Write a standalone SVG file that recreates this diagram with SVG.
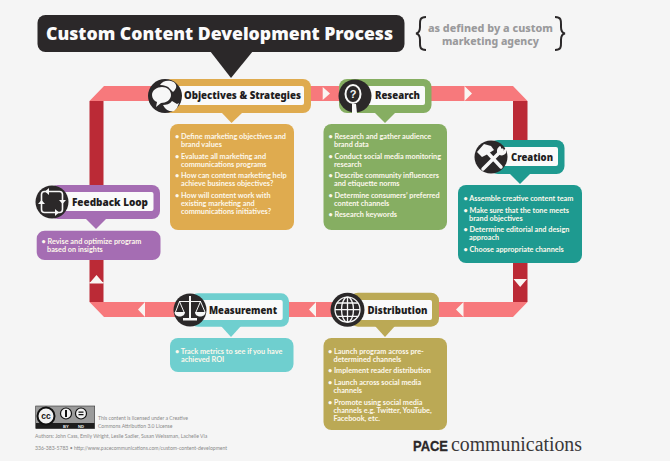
<svg xmlns="http://www.w3.org/2000/svg" width="670" height="461" viewBox="0 0 670 461">
<style>
.b{font-family:"Lato","Liberation Sans",sans-serif;font-size:7.3px;font-weight:700;fill:#fdf8ec}
.h{font-family:"Noto Sans","Liberation Sans",sans-serif;font-size:10.4px;font-weight:900;fill:#1f1d1e}
.w{fill:#fafafa}
.k{fill:#2b2829}
.s{fill:none;stroke:#f7f7f7;stroke-width:1.6;stroke-linecap:round;stroke-linejoin:round}
.p{fill:#f7797c}.d{fill:#bb2a36}.a{fill:#f9f5f2}
.f{font-family:"Lato","Liberation Sans",sans-serif;font-size:5.1px;fill:#8a8a8a}
.t{font-family:"Noto Sans","Liberation Sans",sans-serif;font-size:10px;font-weight:800;fill:#9a9a9c}
</style>
<rect width="670" height="461" fill="#f5f5f5"/>
<g id="connectors">
<path class="d" d="M89.500 101h14v84h-14zM89.500 260h14v42h-14zM513 101h14.500v39H513zM513 263h14.500v39H513z"/>
<path class="p" d="M89.500 101L104 86H513L527.500 101H513ZM89.500 302H527.500L513 317H104Z"/>
<path class="a" d="M322.700 87L330 93.500L322.700 100ZM464.500 86L472 93.500L464.500 101ZM145 302L138 309.500L145 317ZM316 302L309 309.500L316 317ZM463.500 302L456 309.500L463.500 317ZM90.500 282L96.500 275L102.500 282ZM513.500 279H527L520.200 287Z"/>
<path d="M89.500 282h14v1.500h-14z" class="a"/>
</g>
<g id="title">
<rect x="37.500" y="15" width="367" height="37" rx="8" class="k"/>
<path class="k" d="M210 51H253L231 78Z"/>
<text x="46" y="40" font-family="Noto Sans,Liberation Sans,sans-serif" font-size="18" font-weight="900" fill="#fbfbfb" textLength="347" lengthAdjust="spacingAndGlyphs">Custom Content Development Process</text>
</g>
<g id="subtitle">
<path d="M426 17C419 17 420 21 420 27C420 31 419 33 416 33.500C419 34 420 36 420 40C420 46 419 50 426 50" fill="none" stroke="#2b2829" stroke-width="2"/>
<path d="M555 17C562 17 561 21 561 27C561 31 562 33 565 33.500C562 34 561 36 561 40C561 46 562 50 555 50" fill="none" stroke="#2b2829" stroke-width="2"/>
<text class="t" x="490.500" y="32" text-anchor="middle" textLength="125" lengthAdjust="spacingAndGlyphs">as defined by a custom</text>
<text class="t" x="490.500" y="45" text-anchor="middle" textLength="97" lengthAdjust="spacingAndGlyphs">marketing agency</text>
</g>
<g id="objectives" fill="#dfab4f">
<rect x="163" y="79" width="148" height="34" rx="8"/>
<path d="M222 113H242L231.500 123Z"/>
<rect x="170" y="124" width="124" height="106" rx="8"/>
<rect class="w" x="170" y="86" width="134" height="19" rx="2"/>
<circle class="k" cx="165" cy="96" r="17"/>
<path fill="#f7f7f7" d="M152 95c0-5 5-8 10-8s9 3 9 8-5 8-10 8l-5 4 1-5c-3-1-5-4-5-7zM160 85c2-4 7-5 11-4s6 4 5 7c-1 2-2 3-3 4l-3-3c-2-3-6-4-10-4zM163 105c3 0 7-1 9-4l5 3 2-1-2 5-3 3c-3 1-8 0-11-6z"/>
<text class="h" x="184" y="99" textLength="117" lengthAdjust="spacingAndGlyphs">Objectives &amp; Strategies</text>
<g class="b">
<text x="175" y="139">• Define marketing objectives and</text>
<text x="181" y="147">brand values</text>
<text x="175" y="158.500">• Evaluate all marketing and</text>
<text x="181" y="166.500">communications programs</text>
<text x="175" y="178">• How can content marketing help</text>
<text x="181" y="186">achieve business objectives?</text>
<text x="175" y="197.500">• How will content work with</text>
<text x="181" y="205.500">existing marketing and</text>
<text x="181" y="213.500">communications initiatives?</text>
</g>
</g>
<g id="research" fill="#86ae62">
<rect x="339" y="79" width="92.500" height="34" rx="8"/>
<path d="M375 113H395L385 123Z"/>
<rect x="323.500" y="124" width="123.500" height="106" rx="8"/>
<rect class="w" x="350" y="86" width="75" height="19" rx="2"/>
<circle class="k" cx="355" cy="96" r="16.500"/>
<ellipse cx="353" cy="94" rx="7.500" ry="9" fill="none" stroke="#f7f7f7" stroke-width="2"/>
<path fill="#f7f7f7" d="M352 104h4l1 9h-5z"/>
<text x="353" y="98" text-anchor="middle" font-family="Liberation Sans,sans-serif" font-size="11" font-weight="700" fill="#f7f7f7">?</text>
<text class="h" x="375" y="99" textLength="45" lengthAdjust="spacingAndGlyphs">Research</text>
<g class="b">
<text x="328.500" y="139">• Research and gather audience</text>
<text x="334" y="147">brand data</text>
<text x="328.500" y="158.500">• Conduct social media monitoring</text>
<text x="334" y="166.500">research</text>
<text x="328.500" y="178">• Describe community influencers</text>
<text x="334" y="186">and etiquette norms</text>
<text x="328.500" y="197.500">• Determine consumers’ preferred</text>
<text x="334" y="205.500">content channels</text>
<text x="328.500" y="217">• Research keywords</text>
</g>
</g>
<g id="creation" fill="#1e9a90">
<rect x="490" y="140" width="74.500" height="34" rx="8"/>
<path d="M510 174H530L520 184Z"/>
<rect x="458" y="185" width="124" height="78" rx="8"/>
<rect class="w" x="495" y="147" width="63" height="19" rx="2"/>
<circle class="k" cx="491" cy="157" r="16.500"/>
<path fill="none" stroke="#f7f7f7" stroke-width="3.500" stroke-linecap="round" d="M487 152L501 167M502 150L483 169"/>
<path fill="#f7f7f7" d="M477 152l7-8 7 2 3 4-8 5-4 2zM500 146c-3 2-4 5-2 8 2 2 6 2 8-1l0-5-3 3-2-1 0-3z"/>
<text class="h" x="511" y="161" textLength="42" lengthAdjust="spacingAndGlyphs">Creation</text>
<g class="b">
<text x="463.500" y="201">• Assemble creative content team</text>
<text x="463.500" y="212.500">• Make sure that the tone meets</text>
<text x="469" y="220.500">brand objectives</text>
<text x="463.500" y="232">• Determine editorial and design</text>
<text x="469" y="240">approach</text>
<text x="463.500" y="252">• Choose appropriate channels</text>
</g>
</g>
<g id="feedback" fill="#a56db3">
<rect x="50" y="185" width="110" height="34" rx="8"/>
<path d="M86 219H106L96 229Z"/>
<rect x="36.700" y="230.700" width="123.800" height="29.300" rx="8"/>
<rect class="w" x="60" y="192" width="93.500" height="19" rx="2"/>
<circle class="k" cx="52" cy="202" r="16.500"/>
<rect class="s" x="41.500" y="191.500" width="21" height="21" rx="3"/>
<path fill="#f7f7f7" d="M49 188l-4 3.500 4 3.500zM55 216l4-3.500-4-3.500zM38 204l3.500-4 3.500 4zM66 200l-3.500 4-3.500-4z"/>
<text class="h" x="72" y="206" textLength="76" lengthAdjust="spacingAndGlyphs">Feedback Loop</text>
<g class="b">
<text x="41.500" y="244">• Revise and optimize program</text>
<text x="47" y="252">based on insights</text>
</g>
</g>
<g id="measurement" fill="#6fcfcf">
<rect x="190" y="293.300" width="99" height="33.500" rx="8"/>
<path d="M221 326H241L231 337Z"/>
<rect x="170" y="338" width="123.500" height="34" rx="8"/>
<rect class="w" x="200" y="300" width="82.700" height="20" rx="2"/>
<circle class="k" cx="190" cy="310" r="16.500"/>
<path fill="none" stroke="#f7f7f7" stroke-width="1" d="M179 301.500H201M179.500 301.500L175.500 312M179.500 301.500L184 312M200.500 301.500L196 312M200.500 301.500L205 312"/>
<path fill="#f7f7f7" d="M189 296h2v22h-2zM183 318h14v2.500h-14zM174.500 312h10.500c0 6-10.500 6-10.500 0zM195 312h10.500c0 6-10.500 6-10.500 0z"/>
<text class="h" x="209" y="314" textLength="68" lengthAdjust="spacingAndGlyphs">Measurement</text>
<g class="b">
<text x="175" y="353.500">• Track metrics to see if you have</text>
<text x="181" y="361.500">achieved ROI</text>
</g>
</g>
<g id="distribution" fill="#bba955">
<rect x="350" y="292.700" width="89" height="34" rx="8"/>
<path d="M375 326H395L385 337Z"/>
<rect x="323.500" y="338" width="123.500" height="92" rx="8"/>
<rect class="w" x="360" y="300" width="72" height="20" rx="2"/>
<circle class="k" cx="347.500" cy="309.700" r="17"/>
<g fill="none" stroke="#f7f7f7" stroke-width="1.300">
<circle cx="347.500" cy="309.700" r="12.500"/>
<ellipse cx="347.500" cy="309.700" rx="6" ry="12.500"/>
<path d="M347.500 297.200v25M335 309.700h25M337 303h21M337 316.400h21"/>
</g>
<text class="h" x="367.500" y="314" textLength="60" lengthAdjust="spacingAndGlyphs">Distribution</text>
<g class="b">
<text x="328" y="354">• Launch program across pre-</text>
<text x="333.500" y="362">determined channels</text>
<text x="328" y="373.300">• Implement reader distribution</text>
<text x="328" y="385">• Launch across social media</text>
<text x="333.500" y="393">channels</text>
<text x="328" y="404.700">• Promote using social media</text>
<text x="333.500" y="412.700">channels e.g. Twitter, YouTube,</text>
<text x="333.500" y="420.700">Facebook, etc.</text>
</g>
</g>
<g id="license">
<rect x="35.700" y="406" width="59" height="22.500" fill="#9b9b9b" stroke="#333" stroke-width=".6"/>
<rect x="36" y="423" width="58.500" height="5.500" fill="#1d1d1d"/>
<circle cx="46" cy="416" r="8.500" fill="#f2f2f2" stroke="#111" stroke-width="2"/>
<text x="46" y="419" text-anchor="middle" font-family="Liberation Sans,sans-serif" font-size="8.500" font-weight="700" fill="#111">cc</text>
<circle cx="66" cy="413.500" r="5.500" fill="#f2f2f2" stroke="#111" stroke-width="1.200"/>
<path d="M65 410h2v7h-2z" fill="#111"/>
<circle cx="81" cy="413.500" r="5.500" fill="#f2f2f2" stroke="#111" stroke-width="1.200"/>
<path d="M78.500 411.500h5v1.300h-5zM78.500 414h5v1.300h-5z" fill="#111"/>
<text x="66" y="427.700" text-anchor="middle" font-family="Liberation Sans,sans-serif" font-size="4.200" font-weight="700" fill="#eee">BY</text>
<text x="81" y="427.700" text-anchor="middle" font-family="Liberation Sans,sans-serif" font-size="4.200" font-weight="700" fill="#eee">ND</text>
<g class="f">
<text x="98" y="420">This content is licensed under a Creative</text>
<text x="98" y="427.500">Commons Attribution 3.0 License</text>
<text x="35" y="438">Authors: John Cass, Emily Wright, Leslie Sadler, Susan Weissman, Lachelle Via</text>
<text x="35" y="450">336-383-5783 • http://www.pacecommunications.com/custom-content-development</text>
</g>
</g>
<g id="logo">
<text x="413" y="451" font-family="Liberation Sans,sans-serif" font-size="15.500" font-weight="700" fill="#2b2829" stroke="#2b2829" stroke-width=".3" textLength="35" lengthAdjust="spacingAndGlyphs">PACE</text>
<text x="451" y="451" font-family="Liberation Serif,serif" font-size="20" fill="#3a3839" textLength="131" lengthAdjust="spacingAndGlyphs">communications</text>
</g>
</svg>
